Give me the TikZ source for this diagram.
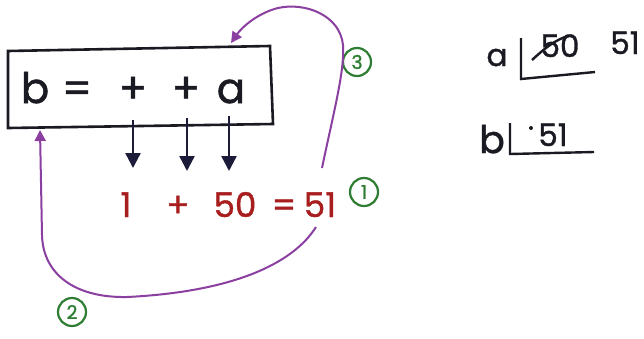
\documentclass[tikz,border=0pt]{standalone}
\usepackage{fontspec}
\setmainfont{Poppins}
\newfontfamily\inkfont{Poppins}[FakeBold=1.2]
\usetikzlibrary{arrows.meta}
\definecolor{inkpurple}{HTML}{8B3FA0}
\definecolor{inkgreen}{HTML}{2E7D32}
\definecolor{inkred}{HTML}{A81E1E}
\definecolor{inkblack}{HTML}{1A1A22}
\definecolor{inknavy}{HTML}{1C1C3A}
\begin{document}
\begin{tikzpicture}[x=1pt,y=-1pt,
  big/.style={font=\inkfont\fontsize{42}{42}\selectfont, inner sep=0pt, anchor=base, text=inkblack},
  sumtxt/.style={font=\inkfont\fontsize{34}{34}\selectfont, inner sep=0pt, anchor=base, text=inkred},
  mem/.style={font=\inkfont\fontsize{31}{31}\selectfont, inner sep=0pt, anchor=base, text=inkblack},
  numcircle/.style={circle, draw=inkgreen, line width=2.2pt, text=inkgreen, font=\inkfont\fontsize{19}{19}\selectfont, minimum size=28pt, inner sep=0pt},
  flow/.style={draw=inkpurple, line width=2pt, -{Triangle[length=11pt,width=11pt]}},
  downarrow/.style={draw=inknavy, line width=2.5pt, -{Triangle[length=15pt,width=15pt]}},
  frame/.style={draw=inkblack, line width=2.6pt},
  memline/.style={draw=inkblack, line width=2.4pt}
]
\useasboundingbox (0,0) rectangle (644,338);
\fill[white] (0,0) rectangle (644,338);

% box with expression
\draw[frame] (8,51) -- (270,46) -- (273,124) -- (8,128) -- cycle;
\node[big] (cb) at (35,103) {b};
\node[big] (ceq) at (77,103) {=};
\node[big] (cp1) at (133,103) {+};
\node[big] (cp2) at (186,103) {+};
\node[big] (ca) at (231,103) {a};

% red sum
\node[sumtxt] (s1) at (126,217) {1};
\node[sumtxt] (splus) at (178,217) {+};
\node[sumtxt] (s50) at (235,217) {50};
\node[sumtxt] (seq) at (284,217) {=};
\node[sumtxt] (s51) at (320,217) {51};

% down arrows
\coordinate (d1a) at (133,120); \coordinate (d1b) at (133,168);
\coordinate (d2a) at (187,118); \coordinate (d2b) at (187,171);
\coordinate (d3a) at (229,116); \coordinate (d3b) at (229,171);
\draw[downarrow] (d1a) -- (d1b);
\draw[downarrow] (d2a) -- (d2b);
\draw[downarrow] (d3a) -- (d3b);

% step numbers
\node[numcircle] (n1) at (364,192) {1};
\node[numcircle] (n2) at (72,312) {2};
\node[numcircle] (n3) at (357,62) {3};

% purple flows
\coordinate (f3a) at (322,168);
\coordinate (f3b) at (231,43);
\draw[flow] (f3a) .. controls (333,115) and (345,70) .. (343,45)
  .. controls (340,15) and (305,2) .. (278,8)
  .. controls (258,13) and (242,27) .. (f3b);
\coordinate (f2a) at (316,227);
\coordinate (f2b) at (40,130);
\draw[flow] (f2a) .. controls (292,265) and (230,292) .. (127,297)
  .. controls (76,298) and (43,275) .. (42,235) -- (f2b);

% memory boxes
\node[mem] (va) at (497,66) {a};
\draw[memline] (521,38) -- (521,79) -- (595,72);
\node[mem] (v50) at (560,57) {50};
\draw[memline] (532,60) .. controls (545,48) and (555,40) .. (568,36);
\node[mem] (v51a) at (625,54) {51};

\node[mem, font=\inkfont\fontsize{38}{38}\selectfont] (vb) at (492,153) {b};
\draw[memline] (510,123) -- (510,154) -- (594,152);
\fill[inkblack] (531,128) circle (2pt);
\node[mem] (v51b) at (553,146) {51};
\end{tikzpicture}
\end{document}
